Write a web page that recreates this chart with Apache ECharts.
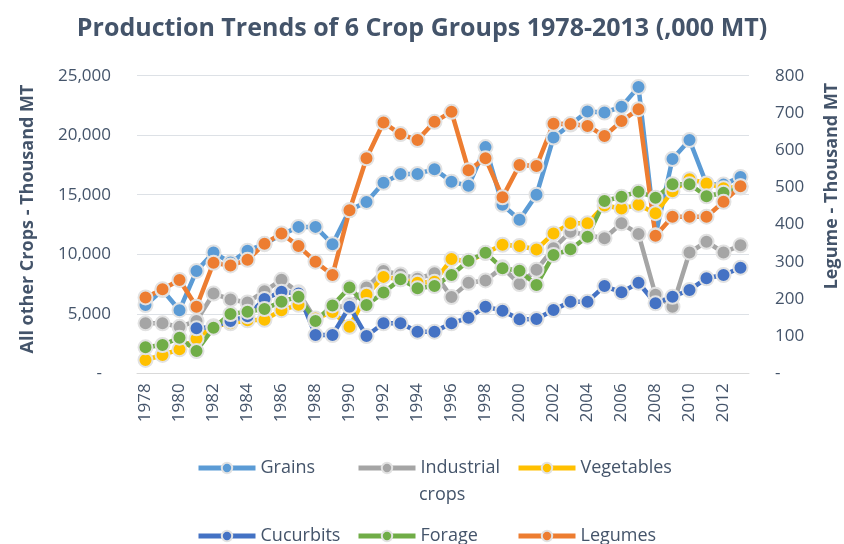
<!DOCTYPE html>
<html>
<head>
<meta charset="utf-8">
<script src="https://cdn.jsdelivr.net/npm/echarts@6/dist/echarts.min.js"></script>
<style>
html,body{margin:0;padding:0;background:#fff;}
#chart{width:844px;height:544px;}
</style>
</head>
<body>
<div id="chart"></div>
<script>
var years = [];
for (var y = 1978; y <= 2013; y++) years.push(String(y));

var grains = [5740, 7000, 5300, 8600, 10150, 9300, 10300, 10850, 11650, 12300, 12300, 10850, 13700, 14400, 16000, 16750, 16750, 17150, 16100, 15750, 19000, 14150, 12900, 15000, 19800, 20900, 22000, 21900, 22400, 24050, 11600, 18000, 19600, 15900, 15850, 16500];
var industrial = [4200, 4200, 3900, 4400, 6700, 6200, 5950, 6900, 7850, 6800, 4500, 5400, 5800, 7200, 8600, 8300, 7950, 8400, 6400, 7600, 7800, 8900, 7500, 8700, 10500, 11900, 11600, 11350, 12600, 11700, 6600, 5600, 10150, 11050, 10150, 10750];
var vegetables = [1120, 1540, 2010, 2900, 3950, 4200, 4450, 4500, 5300, 5750, 4600, 5150, 3900, 6600, 8100, 7900, 7600, 7700, 9600, 9400, 10100, 10800, 10700, 10400, 11750, 12600, 12600, 14100, 13850, 14150, 13450, 15300, 16300, 15950, 15550, 15700];
var cucurbits = [null, null, null, 3780, 3900, 4400, 4800, 6250, 6850, 6700, 3220, 3220, 5600, 3130, 4200, 4200, 3500, 3500, 4200, 4670, 5600, 5260, 4530, 4560, 5320, 6020, 6020, 7330, 6800, 7610, 5880, 6430, 7000, 7980, 8260, 8870];
var forage = [2180, 2380, 2990, 1870, 3830, 4980, 5180, 5400, 6020, 6440, 4400, 5700, 7200, 5740, 6780, 7900, 7140, 7330, 8260, 9460, 10130, 8820, 8620, 7420, 9940, 10420, 11480, 14470, 14840, 15260, 14750, 15880, 15880, 14870, 15170, 15600];
var legumes = [204, 226, 251, 179, 297, 290, 305, 348, 376, 342, 300, 264, 438, 578, 674, 643, 627, 676, 703, 546, 578, 473, 560, 557, 671, 670, 665, 638, 678, 710, 370, 421, 421, 421, 461, 503];

var seriesNames = ['Grains', 'Industrial crops', 'Vegetables', 'Cucurbits', 'Forage', 'Legumes'];
var seriesColors = ['#5B9BD5', '#A5A5A5', '#FFC000', '#4472C4', '#70AD47', '#ED7D31'];
var seriesData = [grains, industrial, vegetables, cucurbits, forage, legumes];
var seriesAxis = [0, 0, 0, 0, 0, 1];

var FONT = 'Open Sans';
var TXT = '#44546A';

function fmt(v) {
  if (v === 0) return '{d|-}';
  return String(v).replace(/\B(?=(\d{3})+(?!\d))/g, ',');
}

var series = seriesNames.map(function (n, i) {
  return {
    name: n,
    type: 'line',
    yAxisIndex: seriesAxis[i],
    data: seriesData[i],
    symbol: 'circle',
    symbolSize: 14,
    showSymbol: true,
    showAllSymbol: true,
    connectNulls: false,
    lineStyle: { width: 4.5, color: seriesColors[i] },
    itemStyle: { color: seriesColors[i], borderColor: '#E2E2E2', borderWidth: 2 },
    emphasis: { disabled: true }
  };
});

var legendPos = [[196, 459], [356, 459], [516, 459], [196, 527], [356, 527], [516, 527]];
var legends = seriesNames.map(function (n, i) {
  return {
    data: [n],
    left: legendPos[i][0],
    top: legendPos[i][1],
    padding: 0,
    itemWidth: 57,
    itemHeight: 13,
    itemGap: 0,
    selectedMode: false,
    lineStyle: { width: 5 },
    itemStyle: { borderColor: '#E2E2E2', borderWidth: 2 },
    formatter: function (name) { return name === 'Industrial crops' ? 'Industrial' : name; },
    textStyle: { fontFamily: FONT, fontSize: 18, color: TXT }
  };
});

var chart = echarts.init(document.getElementById('chart'), null, { renderer: 'canvas' });
chart.setOption({
  animation: false,
  backgroundColor: '#fff',
  title: {
    text: 'Production Trends of 6 Crop Groups 1978-2013 (,000 MT)',
    left: 'center',
    top: 11,
    textStyle: { fontFamily: FONT, fontSize: 25, fontWeight: 'bold', color: TXT }
  },
  legend: legends,
  grid: { left: 137, right: 95, top: 75.7, bottom: 170.7, containLabel: false, outerBoundsMode: 'none' },
  xAxis: {
    type: 'category',
    data: years,
    boundaryGap: true,
    axisLine: { show: true, lineStyle: { color: '#D9D9D9', width: 1 } },
    axisTick: { show: false },
    axisLabel: { interval: 1, rotate: 90, margin: 10, fontFamily: FONT, fontSize: 17, color: TXT }
  },
  yAxis: [
    {
      type: 'value', min: 0, max: 25000, interval: 5000,
      axisLine: { show: false }, axisTick: { show: false },
      splitLine: { lineStyle: { color: '#DDE1E6', width: 1 } },
      axisLabel: {
        margin: 26, fontFamily: FONT, fontSize: 17, color: TXT, formatter: fmt,
        rich: { d: { fontFamily: FONT, fontSize: 17, color: TXT, padding: [0, 9, 0, 0] } }
      }
    },
    {
      type: 'value', min: 0, max: 800, interval: 100,
      axisLine: { show: false }, axisTick: { show: false },
      splitLine: { show: false },
      axisLabel: {
        margin: 26, fontFamily: FONT, fontSize: 17, color: TXT, formatter: fmt,
        rich: { d: { fontFamily: FONT, fontSize: 17, color: TXT } }
      }
    }
  ],
  graphic: [
    {
      type: 'text', x: 27.5, y: 219, rotation: Math.PI / 2,
      style: { text: 'All other Crops - Thousand MT', fontFamily: FONT, fontSize: 18, fontWeight: 'bold', fill: TXT, align: 'center', verticalAlign: 'middle' }
    },
    {
      type: 'text', x: 832, y: 186, rotation: Math.PI / 2,
      style: { text: 'Legume - Thousand MT', fontFamily: FONT, fontSize: 18, fontWeight: 'bold', fill: TXT, align: 'center', verticalAlign: 'middle' }
    },
    {
      type: 'text', x: 419, y: 495,
      style: { text: 'crops', fontFamily: FONT, fontSize: 18, fill: TXT, align: 'left', verticalAlign: 'middle' }
    }
  ],
  series: series
});
</script>
</body>
</html>
